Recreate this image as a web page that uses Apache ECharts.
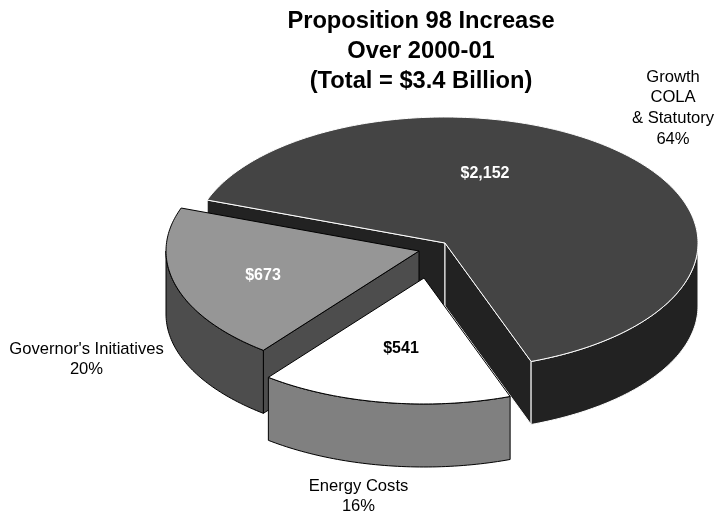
<!DOCTYPE html>
<html>
<head>
<meta charset="utf-8">
<style>html,body{margin:0;padding:0;background:#fff}#c{width:714px;height:513px}</style>
<script src="https://cdn.jsdelivr.net/npm/echarts@6/dist/echarts.min.js"></script>
</head>
<body>
<div id="c"></div>
<script>
var titleLines = ['Proposition 98 Increase', 'Over 2000-01', '(Total = $3.4 Billion)'];
var categories = ['Growth\nCOLA\n& Statutory', "Governor's Initiatives", 'Energy Costs'];
var values = [2152, 673, 541];
var percents = ['64%', '20%', '16%'];
var valueLabels = ['$2,152', '$673', '$541'];

var total = values.reduce(function (a, b) { return a + b; }, 0);
var RX = 253, RY = 126, DEPTH = 63, CX = 445, CY = 243, END_ANGLE = 160.1;
var looks = [
  { dx: 0, dy: 0, top: '#444444', rim: '#222222', wall: '#222222', line: '#ffffff', topLine: '#ffffff',
    val: [485, 174], valFill: '#ffffff', out: [673, 108], lh: 20.7 },
  { dx: -26, dy: 8, top: '#969696', rim: '#4d4d4d', wall: '#4d4d4d', line: '#000000', topLine: '#000000',
    val: [263, 276], valFill: '#ffffff', out: [86.5, 359], lh: 20 },
  { dx: -21, dy: 35, top: '#ffffff', rim: '#808080', wall: '#808080', line: '#000000', topLine: '#000000',
    val: [401, 349], valFill: '#000000', out: [358.5, 496.5], lh: 20 }
];
function rad(a) { return a * Math.PI / 180; }
function pt(a, cx, cy, dz) { return [cx + RX * Math.sin(rad(a)), cy - RY * Math.cos(rad(a)) + dz]; }
function arc(a0, a1, cx, cy, dz) {
  var pts = [], n = Math.max(2, Math.ceil(Math.abs(a1 - a0)));
  for (var i = 0; i <= n; i++) pts.push(pt(a0 + (a1 - a0) * i / n, cx, cy, dz));
  return pts;
}
function poly(points, fill, stroke, w) {
  return { type: 'polygon', shape: { points: points }, style: { fill: fill, stroke: stroke, lineWidth: w || 1, lineJoin: 'round' } };
}
function text(str, x, y, font, fill, lh) {
  return { type: 'text', z2: 10, style: { text: str, x: x, y: y, font: font, fill: fill, align: 'center', verticalAlign: 'middle', lineHeight: lh || 20 } };
}
function renderItem(params, api) {
  var idx = params.dataIndex, L = looks[idx], cursor = END_ANGLE;
  for (var i = 0; i < idx; i++) cursor -= values[i] / total * 360;
  var a1 = cursor, a0 = cursor - api.value(0) / total * 360;
  var cx = CX + L.dx, cy = CY + L.dy, kids = [];
  [[a0, a0 - 90], [a1, a1 + 90]].forEach(function (w) {
    if (Math.cos(rad(w[1])) < 0) {
      var e = pt(w[0], cx, cy, 0), f = pt(w[0], cx, cy, DEPTH);
      kids.push(poly([[cx, cy], e, f, [cx, cy + DEPTH]], L.wall, L.line));
    }
  });
  [-360, 0, 360].forEach(function (k) {
    var s = Math.max(a0 + k, 90), t = Math.min(a1 + k, 270);
    if (t > s) {
      kids.push(poly(arc(s, t, cx, cy, 0).concat(arc(t, s, cx, cy, DEPTH)), L.rim, L.line));
    }
  });
  kids.push(poly([[cx, cy]].concat(arc(a0, a1, cx, cy, 0)), L.top, L.topLine));
  kids.push(text(valueLabels[idx], L.val[0], L.val[1], 'bold 16px "Liberation Sans"', L.valFill));
  kids.push(text(categories[idx] + '\n' + percents[idx], L.out[0], L.out[1], '16.6px "Liberation Sans"', '#000000', L.lh));
  return { type: 'group', children: kids };
}
var chart = echarts.init(document.getElementById('c'), null, { renderer: 'canvas' });
chart.setOption({
  animation: false,
  backgroundColor: '#ffffff',
  title: {
    text: titleLines.join('\n'), left: 416, top: 1, textAlign: 'center',
    textStyle: { fontFamily: 'Liberation Sans', fontWeight: 'bold', fontSize: 23.7, lineHeight: 30, color: '#000' }
  },
  series: [{
    type: 'custom',
    coordinateSystem: 'none',
    renderItem: renderItem,
    silent: true,
    data: values.map(function (v, i) { return { name: categories[i], value: [v] }; })
  }]
});
</script>
</body>
</html>
